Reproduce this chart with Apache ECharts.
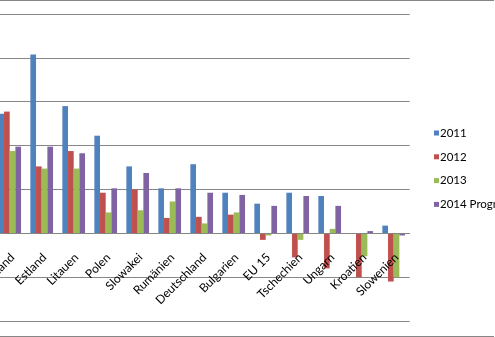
<!DOCTYPE html>
<html>
<head>
<meta charset="utf-8">
<script src="https://cdn.jsdelivr.net/npm/echarts@6/dist/echarts.min.js"></script>
<style>
  html, body { margin: 0; padding: 0; background: #fff; }
  #chart { width: 495px; height: 337px; }
</style>
</head>
<body>
<div id="chart"></div>
<script>
// Wirtschaftswachstum (BIP, % zum Vorjahr)
const laender = ['Lettland', 'Estland', 'Litauen', 'Polen', 'Slowakei', 'Rumänien',
  'Deutschland', 'Bulgarien', 'EU 15', 'Tschechien', 'Ungarn', 'Kroatien', 'Slowenien'];
const werte2011 = [5.45, 8.15, 5.8, 4.45, 3.05, 2.05, 3.15, 1.85, 1.35, 1.85, 1.7, 0, 0.35];
const werte2012 = [5.55, 3.05, 3.75, 1.85, 2.0, 0.7, 0.75, 0.85, -0.3, -1.1, -1.6, -2.0, -2.2];
const werte2013 = [3.75, 2.95, 2.95, 0.95, 1.05, 1.45, 0.45, 0.95, -0.1, -0.3, 0.2, -1.05, -2.0];
const werte2014 = [3.95, 3.95, 3.65, 2.05, 2.75, 2.05, 1.85, 1.75, 1.25, 1.7, 1.25, 0.1, -0.1];
const serienNamen = ['2011', '2012', '2013', '2014 Prognose'];
const farben = ['#4F81BD', '#C0504D', '#9BBB59', '#8064A2'];

const yMin = -4, yMax = 10;
const plotTop = 14, plotBottom = 16;
const plotHeight = 337 - plotTop - plotBottom;
// shift the category axis from the bottom edge up to the zero line
const nullLinienOffset = -plotHeight * (0 - yMin) / (yMax - yMin);

const chart = echarts.init(document.getElementById('chart'));
const reihen = [werte2011, werte2012, werte2013, werte2014];

chart.setOption({
  animation: false,
  textStyle: { fontFamily: 'Lato' },
  grid: { left: -6.3, right: 85.3, top: plotTop, bottom: plotBottom, containLabel: false, outerBoundsMode: 'none' },
  legend: {
    orient: 'vertical',
    left: 434,
    top: 127,
    padding: 0,
    itemWidth: 5,
    itemHeight: 5,
    itemGap: 11.8,
    icon: 'rect',
    textStyle: { fontSize: 11.5, color: '#000', lineHeight: 12, padding: [0, 0, 0, -4] },
    data: serienNamen
  },
  xAxis: {
    type: 'category',
    data: laender,
    position: 'bottom',
    offset: nullLinienOffset,
    z: 3,
    axisLine: { onZero: false, lineStyle: { color: '#868686', width: 1 } },
    axisTick: { length: 4, lineStyle: { color: '#868686' } },
    axisLabel: { rotate: 45, interval: 0, fontSize: 12, color: '#000', margin: 25, padding: [0, -4, 0, 0] }
  },
  yAxis: {
    type: 'value',
    min: yMin, max: yMax, interval: 2,
    axisLine: { show: false },
    axisTick: { show: false },
    axisLabel: { show: false },
    splitLine: { lineStyle: { color: '#868686', width: 1 } }
  },
  series: reihen.map((werte, i) => ({
    name: serienNamen[i],
    type: 'bar',
    data: werte,
    barWidth: 5.67,
    barGap: '0%',
    itemStyle: { color: farben[i] }
  })),
  graphic: [
    { type: 'line', shape: { x1: 0, y1: 0.5, x2: 494, y2: 0.5 }, style: { stroke: '#868686', lineWidth: 1 } },
    { type: 'line', shape: { x1: 0, y1: 336.5, x2: 494, y2: 336.5 }, style: { stroke: '#868686', lineWidth: 1 } }
  ]
});
</script>
</body>
</html>
